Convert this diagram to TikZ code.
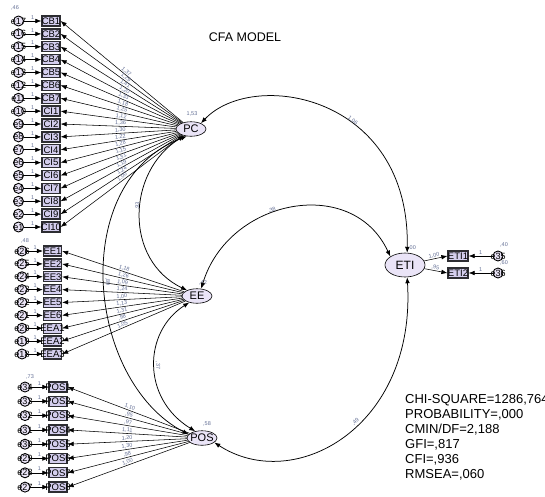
\documentclass[tikz,border=0pt]{standalone}
\usepackage{fontspec}
\setmainfont{Liberation Sans}
\usetikzlibrary{arrows.meta,shapes.geometric}
\definecolor{latfill}{RGB}{234,228,247}
\definecolor{obsfill}{RGB}{212,206,238}
\definecolor{obsedge}{RGB}{45,45,50}
\definecolor{estcol}{RGB}{100,112,150}
\tikzset{
  latent/.style={ellipse, draw=black, line width=0.6pt, fill=latfill, inner sep=0pt,
    minimum width=30pt, minimum height=14.5pt, font=\fontsize{11}{11}\selectfont},
  obsbox/.style={rectangle, draw=obsedge, line width=1.3pt, fill=obsfill, inner sep=0pt,
    minimum width=18pt, minimum height=10pt, font=\fontsize{9.5}{9.5}\selectfont},
  errc/.style={circle, draw=black, line width=0.9pt, fill=latfill, inner sep=0pt,
    minimum size=10pt, font=\fontsize{9}{9}\selectfont},
  loadarrow/.style={draw, line width=0.55pt, ->},
  cov/.style={draw, line width=0.75pt, <->},
  est/.style={font=\fontsize{5.5}{5.5}\selectfont, text=estcol, inner sep=0.6pt},
}
\begin{document}
\begin{tikzpicture}[x=1pt,y=-1pt,>={Latex[length=6pt,width=4.6pt]}]
\fill[white] (0,0) rectangle (545,496);
\useasboundingbox (0,0) rectangle (545,496);

% title
\node[font=\fontsize{12.5}{12.5}\selectfont] (title) at (245,37) {CFA MODEL};

% latent factors
\node[latent] (PC) at (191,129) {\makebox[0pt]{PC}};
\node[latent] (EE) at (197,296) {\makebox[0pt]{EE}};
\node[latent] (POS) at (202,438) {\makebox[0pt]{POS}};
\node[latent, minimum width=40pt, minimum height=24pt,
      font=\fontsize{12}{12}\selectfont] (ETI) at (405,265) {\makebox[0pt]{ETI}};

% variances of the factors
\node[est] (vPC) at (192,114) {1,53};
\node[est] (vEE) at (203,283) {,42};
\node[est] (vPOS) at (207,424) {,58};
\node[est] (vETI) at (412,248) {,00};

% PC indicators
\foreach \lab/\val [count=\i] in {CB1/1{,}37,CB2/1{,}29,CB3/1{,}41,CB4/1{,}20,CB5/1{,}33,
    CB6/1{,}18,CB7/1{,}25,CI1/1{,}12,CI2/1{,}36,CI3/1{,}30,CI4/1{,}22,CI5/1{,}28,
    CI6/1{,}15,CI7/1{,}31,CI8/1{,}19,CI9/1{,}24,CI10/1{,}00} {
  \pgfmathsetmacro{\yy}{21+12.875*(\i-1)}
  \pgfmathtruncatemacro{\en}{18-\i}
  \node[obsbox] (pc\i) at (51,\yy) {\makebox[0pt]{\lab}};
  \node[errc] (epc\i) at (18.5,\yy) {\makebox[0pt]{e\en}};
  \draw[loadarrow] (epc\i) -- (pc\i) node[midway, above=1pt, est] {1};
  \draw[loadarrow] (PC) -- (pc\i.east) node[pos=0.48, sloped, above, est] {\val};
}
\node[est] (vepc) at (15,8) {,46};

% EE indicators
\foreach \lab/\val [count=\i] in {EE1/1{,}18,EE2/1{,}26,EE3/1{,}09,EE4/1{,}24,EE5/1{,}00,
    EE6/1{,}13,EEA1/1{,}31,EEA2/{,}98,EEA3/1{,}05} {
  \pgfmathsetmacro{\yy}{251+12.875*(\i-1)}
  \pgfmathtruncatemacro{\en}{27-\i}
  \node[obsbox] (ee\i) at (52.5,\yy) {\makebox[0pt]{\lab}};
  \node[errc] (eee\i) at (22,\yy) {\makebox[0pt]{e\en}};
  \draw[loadarrow] (eee\i) -- (ee\i) node[midway, above=1pt, est] {1};
  \draw[loadarrow] (EE) -- (ee\i.east) node[pos=0.5, sloped, above, est] {\val};
}
\node[est] (veee) at (25,241) {,48};

% POS indicators
\foreach \val [count=\i] in {1{,}10,{,}95,{,}97,1{,}11,1{,}20,1{,}30,{,}98,1{,}00} {
  \pgfmathsetmacro{\yy}{387+14.3*(\i-1)}
  \pgfmathtruncatemacro{\en}{35-\i}
  \node[obsbox] (pos\i) at (58,\yy) {\makebox[0pt]{POS\i}};
  \node[errc] (epos\i) at (25,\yy) {\makebox[0pt]{e\en}};
  \draw[loadarrow] (epos\i) -- (pos\i) node[midway, above=1pt, est] {1};
  \draw[loadarrow] (POS) -- (pos\i.east) node[pos=0.5, sloped, above, est] {\val};
}
\node[est] (vepos) at (30,377) {,73};

% ETI indicators
\node[obsbox, minimum width=20pt] (eti1) at (458,256) {\makebox[0pt]{ETI1}};
\node[obsbox, minimum width=20pt] (eti2) at (458,273) {\makebox[0pt]{ETI2}};
\node[errc] (e35) at (498,256) {\makebox[0pt]{e35}};
\node[errc] (e36) at (498,273) {\makebox[0pt]{e36}};
\draw[loadarrow] (e35) -- (eti1) node[midway, above=1pt, est] {1};
\draw[loadarrow] (e36) -- (eti2) node[midway, above=1pt, est] {1};
\draw[loadarrow] (ETI) -- (eti1.west) node[pos=0.45, sloped, above, est] {1,00};
\draw[loadarrow] (ETI) -- (eti2.west) node[pos=0.45, sloped, above, est] {,95};
\node[est] (ve35) at (504,245) {,40};
\node[est] (ve36) at (504,263) {,60};

% covariances between the factors
\draw[cov] (PC.30) .. controls +(52,-55) and +(3,-158) .. (ETI.80)
  node[est, pos=0.6, sloped, above] {1,06};
\draw[cov] (EE.60) .. controls +(27,-90) and +(-38,-82) .. (ETI.150)
  node[est, pos=0.42, sloped, above] {,38};
\draw[cov] (POS.-20) .. controls +(80,52) and +(9,150) .. (ETI.-80)
  node[est, pos=0.56, sloped, above] {,49};
\draw[cov] (PC.225) .. controls +(-58,36) and +(-63,-30) .. (EE.150)
  node[est, pos=0.45, sloped, above] {,93};
\draw[cov] (PC.240) .. controls +(-119,45) and +(-103,-54) .. (POS.165)
  node[est, pos=0.5, sloped, above] {,89};
\draw[cov] (EE.220) .. controls +(-46,29) and +(-54,-33) .. (POS.135)
  node[est, pos=0.5, sloped, above] {,37};

% fit statistics
\node[anchor=north west, align=left, inner sep=0pt,
      font=\fontsize{13}{15}\selectfont] (fit) at (405,394)
  {CHI-SQUARE=1286,764\\PROBABILITY=,000\\CMIN/DF=2,188\\GFI=,817\\CFI=,936\\RMSEA=,060};
\end{tikzpicture}
\end{document}
